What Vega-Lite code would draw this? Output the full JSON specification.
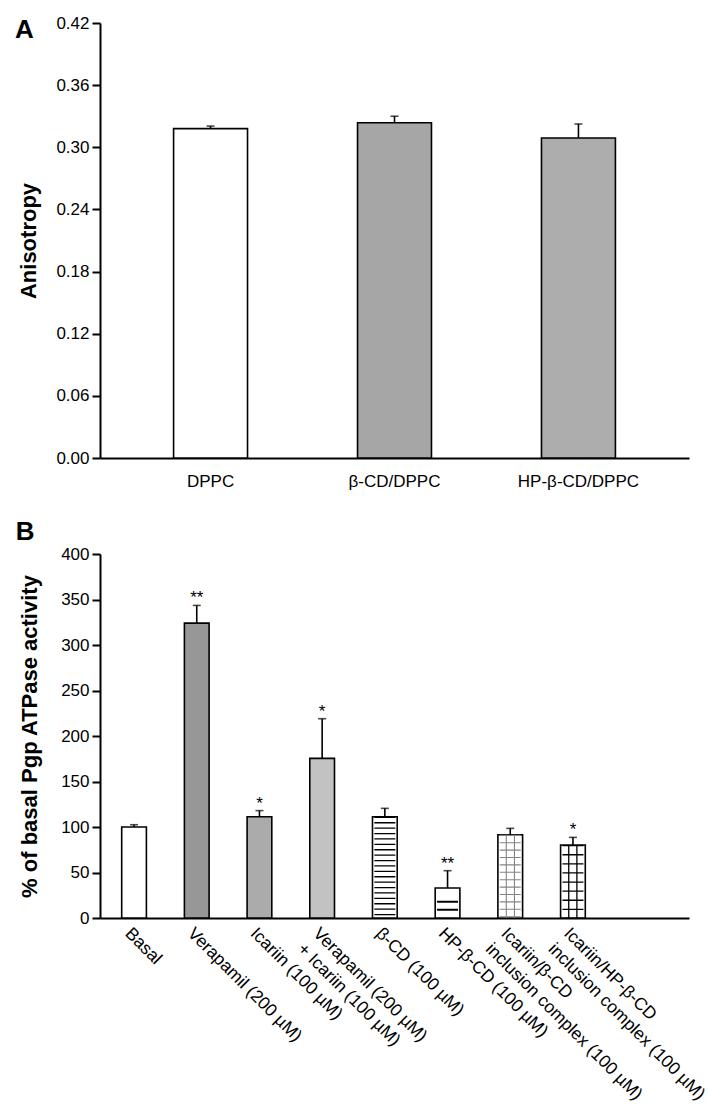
{
  "$schema": "https://vega.github.io/schema/vega-lite/v6.json",
  "padding": {"left": 14, "top": 14, "right": 5, "bottom": 5},
  "background": "#ffffff",
  "config": {
    "font": "Liberation Sans",
    "view": {"stroke": null},
    "axis": {
      "domainColor": "#000", "domainWidth": 2, "tickColor": "#000", "tickWidth": 2,
      "labelColor": "#000", "titleColor": "#000", "grid": false,
      "labelFont": "Liberation Sans", "titleFont": "Liberation Sans"
    },
    "axisY": {"tickSize": 8, "labelPadding": 3, "labelFontSize": 17, "titleFontSize": 22, "titleFontWeight": "bold"},
    "axisX": {"ticks": false, "domainWidth": 2}
  },
  "resolve": {"scale": {"fill": "independent"}},
  "spacing": 30,
  "vconcat": [
    {
      "width": 589,
      "height": 435,
      "title": {"text": "A", "anchor": "start", "frame": "bounds", "fontSize": 26, "fontWeight": "bold", "baseline": "alphabetic", "offset": -50, "dx": -3, "color": "#000"},
      "data": {"values": [
        {"cat": "DPPC", "value": 0.318, "hi": 0.3205},
        {"cat": "β-CD/DPPC", "value": 0.3237, "hi": 0.330},
        {"cat": "HP-β-CD/DPPC", "value": 0.309, "hi": 0.3225}
      ]},
      "encoding": {
        "x": {"field": "cat", "type": "nominal", "sort": null,
          "scale": {"domain": ["DPPC", "β-CD/DPPC", "HP-β-CD/DPPC"], "paddingInner": 0.598, "paddingOuter": 0.4},
          "axis": {"title": null, "labelAngle": 0, "labelPadding": 15, "labelFontSize": 17}}
      },
      "layer": [
        {
          "mark": {"type": "bar", "stroke": "#000", "strokeWidth": 1.6},
          "encoding": {
            "y": {"field": "value", "type": "quantitative", "title": "Anisotropy",
              "scale": {"domain": [0, 0.42], "nice": false},
              "axis": {"values": [0, 0.06, 0.12, 0.18, 0.24, 0.30, 0.36, 0.42], "format": ".2f", "titlePadding": 15}},
            "fill": {"field": "cat", "type": "nominal", "sort": null,
              "scale": {"domain": ["DPPC", "β-CD/DPPC", "HP-β-CD/DPPC"], "range": ["#ffffff", "#a6a6a6", "#adadad"]},
              "legend": null}
          }
        },
        {
          "mark": {"type": "rule", "strokeWidth": 1.6, "color": "#000"},
          "encoding": {
            "y": {"field": "value", "type": "quantitative", "title": "Anisotropy"},
            "y2": {"field": "hi"}
          }
        },
        {
          "mark": {"type": "tick", "color": "#000", "thickness": 1.6, "size": 8},
          "encoding": {"y": {"field": "hi", "type": "quantitative", "title": "Anisotropy"}}
        }
      ]
    },
    {
      "width": 589,
      "height": 364,
      "title": {"text": "B", "anchor": "start", "frame": "bounds", "fontSize": 26, "fontWeight": "bold", "baseline": "alphabetic", "offset": -21, "dx": -3, "color": "#000"},
      "data": {"values": [
        {"k": "basal", "cat": "Basal", "value": 100, "hi": 102.5, "sig": ""},
        {"k": "vera", "cat": "Verapamil (200 µM)", "value": 324, "hi": 343.5, "sig": "**"},
        {"k": "ica", "cat": "Icariin (100 µM)", "value": 111.3, "hi": 118, "sig": "*"},
        {"k": "veraica", "cat": "Verapamil (200 µM)|+ Icariin (100 µM)", "value": 175.4, "hi": 219, "sig": "*"},
        {"k": "bcd", "cat": "β-CD (100 µM)", "value": 111.3, "hi": 120.5, "sig": ""},
        {"k": "hpbcd", "cat": "HP-β-CD (100 µM)", "value": 33, "hi": 52, "sig": "**"},
        {"k": "icabcd", "cat": "Icariin/β-CD|inclusion complex (100 µM)", "value": 91.5, "hi": 98.5, "sig": ""},
        {"k": "icahp", "cat": "Icariin/HP-β-CD|inclusion complex (100 µM)", "value": 80.2, "hi": 88.6, "sig": "*"}
      ]},
      "encoding": {
        "x": {"field": "cat", "type": "nominal", "sort": null,
          "scale": {"domain": ["Basal", "Verapamil (200 µM)", "Icariin (100 µM)", "Verapamil (200 µM)|+ Icariin (100 µM)", "β-CD (100 µM)", "HP-β-CD (100 µM)", "Icariin/β-CD|inclusion complex (100 µM)", "Icariin/HP-β-CD|inclusion complex (100 µM)"],
            "paddingInner": 0.606, "paddingOuter": 1.286, "align": 0.173},
          "axis": {"title": null, "labelAngle": 45, "labelAlign": "left", "labelBaseline": "top", "labelPadding": 6,
            "labelFontSize": 17.5, "labelLineHeight": 22, "labelLimit": 500, "labelOverlap": false,
            "labelExpr": "split(datum.label, '|')"}}
      },
      "layer": [
        {
          "mark": {"type": "bar", "stroke": "#000", "strokeWidth": 1.6},
          "encoding": {
            "y": {"field": "value", "type": "quantitative", "title": "% of basal Pgp ATPase activity",
              "scale": {"domain": [0, 400], "nice": false},
              "axis": {"values": [0, 50, 100, 150, 200, 250, 300, 350, 400], "titlePadding": 19}},
            "fill": {"field": "k", "type": "nominal", "sort": null,
              "scale": {"domain": ["basal", "vera", "ica", "veraica", "bcd", "hpbcd", "icabcd", "icahp"],
                "range": ["#ffffff", "#979797", "#ababab", "#c2c2c2", "#ffffff", "#ffffff", "#ffffff", "#ffffff"]},
              "legend": null}
          }
        },
        {
          "transform": [{"filter": "datum.k == 'bcd'"}],
          "mark": {"type": "rule", "color": "#000", "strokeWidth": 21, "strokeDash": [1.3, 4.1], "strokeCap": "butt"},
          "encoding": {
            "y": {"field": "value", "type": "quantitative", "title": "% of basal Pgp ATPase activity"},
            "y2": {"datum": 0}
          }
        },
        {
          "transform": [{"filter": "datum.k == 'hpbcd'"}],
          "mark": {"type": "rule", "color": "#000", "strokeWidth": 21, "strokeDash": [2, 6, 2, 100], "strokeDashOffset": -12.7, "strokeCap": "butt"},
          "encoding": {
            "y": {"field": "value", "type": "quantitative", "title": "% of basal Pgp ATPase activity"},
            "y2": {"datum": 0}
          }
        },
        {
          "transform": [{"filter": "datum.k == 'icabcd'"}],
          "mark": {"type": "rule", "color": "#858585", "strokeWidth": 21, "strokeDash": [1.1, 6.3], "strokeCap": "butt"},
          "encoding": {
            "y": {"field": "value", "type": "quantitative", "title": "% of basal Pgp ATPase activity"},
            "y2": {"datum": 0}
          }
        },
        {
          "transform": [{"filter": "datum.k == 'icahp'"}],
          "mark": {"type": "rule", "color": "#000", "strokeWidth": 21, "strokeDash": [1.3, 7.8], "strokeCap": "butt"},
          "encoding": {
            "y": {"field": "value", "type": "quantitative", "title": "% of basal Pgp ATPase activity"},
            "y2": {"datum": 0}
          }
        },
        {
          "transform": [{"filter": "datum.k == 'icabcd'"}],
          "mark": {"type": "rule", "color": "#858585", "strokeWidth": 1.1},
          "encoding": {
            "x": {"field": "cat", "type": "nominal", "bandPosition": 0.34},
            "y": {"field": "value", "type": "quantitative", "title": "% of basal Pgp ATPase activity"},
            "y2": {"datum": 0}
          }
        },
        {
          "transform": [{"filter": "datum.k == 'icabcd'"}],
          "mark": {"type": "rule", "color": "#858585", "strokeWidth": 1.1},
          "encoding": {
            "x": {"field": "cat", "type": "nominal", "bandPosition": 0.67},
            "y": {"field": "value", "type": "quantitative", "title": "% of basal Pgp ATPase activity"},
            "y2": {"datum": 0}
          }
        },
        {
          "transform": [{"filter": "datum.k == 'icahp'"}],
          "mark": {"type": "rule", "color": "#000", "strokeWidth": 1.3},
          "encoding": {
            "x": {"field": "cat", "type": "nominal", "bandPosition": 0.33},
            "y": {"field": "value", "type": "quantitative", "title": "% of basal Pgp ATPase activity"},
            "y2": {"datum": 0}
          }
        },
        {
          "transform": [{"filter": "datum.k == 'icahp'"}],
          "mark": {"type": "rule", "color": "#000", "strokeWidth": 1.3},
          "encoding": {
            "x": {"field": "cat", "type": "nominal", "bandPosition": 0.66},
            "y": {"field": "value", "type": "quantitative", "title": "% of basal Pgp ATPase activity"},
            "y2": {"datum": 0}
          }
        },
        {
          "mark": {"type": "rule", "strokeWidth": 1.6, "color": "#000"},
          "encoding": {
            "y": {"field": "value", "type": "quantitative", "title": "% of basal Pgp ATPase activity"},
            "y2": {"field": "hi"}
          }
        },
        {
          "mark": {"type": "tick", "color": "#000", "thickness": 1.6, "size": 8},
          "encoding": {"y": {"field": "hi", "type": "quantitative", "title": "% of basal Pgp ATPase activity"}}
        },
        {
          "mark": {"type": "text", "color": "#000", "fontSize": 17, "baseline": "alphabetic", "dy": -2},
          "encoding": {
            "y": {"field": "hi", "type": "quantitative", "title": "% of basal Pgp ATPase activity"},
            "text": {"field": "sig"}
          }
        }
      ]
    }
  ]
}
